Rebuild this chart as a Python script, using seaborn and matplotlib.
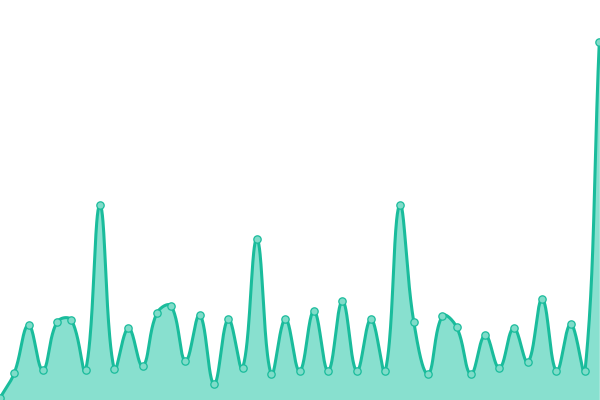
import numpy as np
import pandas as pd
import matplotlib
matplotlib.use('Agg')
import matplotlib.pyplot as plt
import seaborn as sns

# values (0 = bottom edge, 400 = top edge)
idx = list(range(43))
values = [2, 27, 75, 30, 78, 80, 30, 195, 31, 72, 34, 87, 94, 39, 85, 16,
          81, 32, 161, 26, 81, 29, 89, 29, 99, 29, 81, 29, 195, 78, 26, 84,
          73, 26, 65, 32, 72, 38, 101, 29, 76, 29, 358]

line_color = '#1abc9c'
fill_color = '#88e0cf'
point_color = '#80dcc9'

XMAX = 42.05
XPX = 600 / XMAX  # pixels per x unit, y is already in pixels
TENSION = 0.4


def spline(x, y, n=40):
    p = np.column_stack([np.asarray(x, float) * XPX, np.asarray(y, float)])
    cprev = p.copy()
    cnext = p.copy()
    for i in range(len(p)):
        a = p[i - 1] if i > 0 else p[i]
        b = p[i + 1] if i < len(p) - 1 else p[i]
        d01 = np.linalg.norm(p[i] - a)
        d12 = np.linalg.norm(b - p[i])
        s = d01 + d12
        fa = TENSION * d01 / s if s else 0
        fb = TENSION * d12 / s if s else 0
        cprev[i] = p[i] - fa * (b - a)
        cnext[i] = p[i] + fb * (b - a)
    t = np.linspace(0, 1, n, endpoint=False)[:, None]
    out = []
    for i in range(len(p) - 1):
        out.append((1 - t) ** 3 * p[i] + 3 * (1 - t) ** 2 * t * cnext[i]
                   + 3 * (1 - t) * t ** 2 * cprev[i + 1] + t ** 3 * p[i + 1])
    out.append(p[-1][None, :])
    out = np.vstack(out)
    return out[:, 0] / XPX, out[:, 1]


sx, sy = spline(idx, values)
smooth = pd.DataFrame({'x': sx, 'y': sy})
pts = pd.DataFrame({'x': idx, 'y': values})

sns.set_style('white')
fig = plt.figure(figsize=(6, 4), dpi=100)
ax = fig.add_axes([0, 0, 1, 1])

ax.fill_between(smooth['x'], smooth['y'], 0, color=fill_color, linewidth=0)
sns.lineplot(data=smooth, x='x', y='y', ax=ax, color=line_color,
             linewidth=2.2, sort=False)
sns.scatterplot(data=pts, x='x', y='y', ax=ax, color=point_color, s=28,
                edgecolor=line_color, linewidth=0.9, zorder=5)

ax.set_xlim(0, XMAX)
ax.set_ylim(0, 400)
ax.axis('off')

fig.savefig('out.png', dpi=100)
